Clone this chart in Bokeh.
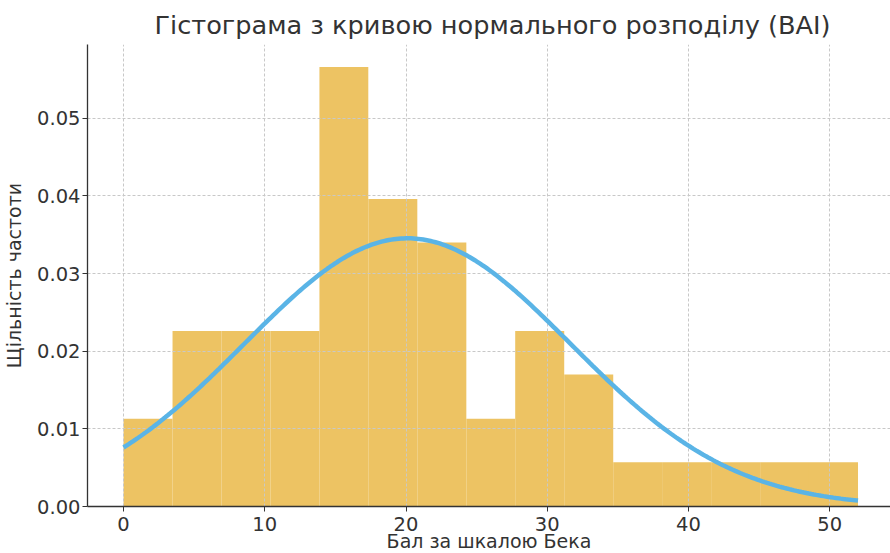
import numpy as np
from bokeh.plotting import figure
from bokeh.models import Range1d, FixedTicker, NumeralTickFormatter, ColumnDataSource, Title
from bokeh.embed import file_html
from bokeh.resources import INLINE

# ---- data ----
bin_left = [0.0, 3.47, 6.93, 10.4, 13.87, 17.33, 20.8, 24.27, 27.73, 31.2, 34.67, 38.13, 41.6, 45.07, 48.53]
bin_right = [3.47, 6.93, 10.4, 13.87, 17.33, 20.8, 24.27, 27.73, 31.2, 34.67, 38.13, 41.6, 45.07, 48.53, 52.0]
density = [0.0113, 0.0226, 0.0226, 0.0226, 0.0566, 0.0396, 0.0340, 0.0113, 0.0226, 0.0170,
           0.0057, 0.0057, 0.0057, 0.0057, 0.0057]
mu = 20.1       # mean of the fitted normal curve
sigma = 11.55   # standard deviation of the fitted normal curve
score_min, score_max = 0.0, 52.0
x_ticks = [0, 10, 20, 30, 40, 50]
y_ticks = [0.00, 0.01, 0.02, 0.03, 0.04, 0.05]
title_text = "Гістограма з кривою нормального розподілу (BAI)"
x_label = "Бал за шкалою Бека"
y_label = "Щільність частоти"

FONT = "DejaVu Sans"
TXT = "#333333"

p = figure(width=890, height=553, output_backend="svg", toolbar_location=None,
           x_range=Range1d(-2.55, 54.3), y_range=Range1d(0, 0.0595),
           min_border_left=87, min_border_right=0, min_border_top=44, min_border_bottom=47)
p.outline_line_color = None
p.background_fill_color = "white"

p.title.text = title_text
p.title.align = "left"
p.title.offset = 67
p.title.text_font = FONT
p.title.text_font_size = "25.6px"
p.title.text_font_style = "normal"
p.title.text_color = TXT

src = ColumnDataSource(dict(left=bin_left, right=bin_right, top=density, bottom=[0] * len(density)))
p.quad(left="left", right="right", top="top", bottom="bottom", source=src,
       fill_color="#EDC363", line_color=None, level="image")

xs = np.linspace(score_min, score_max, 300)
ys = np.exp(-0.5 * ((xs - mu) / sigma) ** 2) / (sigma * np.sqrt(2 * np.pi))
p.line(xs, ys, line_color="#5AB4E6", line_width=4.5)

for g in (p.xgrid, p.ygrid):
    g.grid_line_color = "#c8c8c8"
    g.grid_line_dash = "3 2"
    g.grid_line_width = 1
    g.level = "underlay"

p.xaxis.ticker = FixedTicker(ticks=x_ticks)
p.yaxis.ticker = FixedTicker(ticks=y_ticks)
p.yaxis.formatter = NumeralTickFormatter(format="0.00")
p.yaxis.axis_label = y_label

for ax in (p.xaxis[0], p.yaxis[0]):
    ax.axis_line_color = "#333333"
    ax.axis_line_width = 1.3
    ax.major_tick_line_color = "#333333"
    ax.major_tick_out = 5
    ax.major_tick_in = 0
    ax.minor_tick_line_color = None
    ax.major_label_text_font = FONT
    ax.major_label_text_font_size = "19.5px"
    ax.major_label_text_color = TXT
    ax.axis_label_text_font = FONT
    ax.axis_label_text_font_size = "19px"
    ax.axis_label_text_font_style = "normal"
    ax.axis_label_text_color = TXT

p.xaxis.major_label_standoff = 5
p.yaxis.major_label_standoff = 2
p.yaxis.axis_label_standoff = 9

# x-axis title placed below the axis
p.add_layout(Title(text=x_label, align="center", vertical_align="top", standoff=-8, text_font=FONT,
                   text_font_size="19px", text_font_style="normal", text_color=TXT), "below")

open("out.html", "w").write(file_html(p, INLINE))
